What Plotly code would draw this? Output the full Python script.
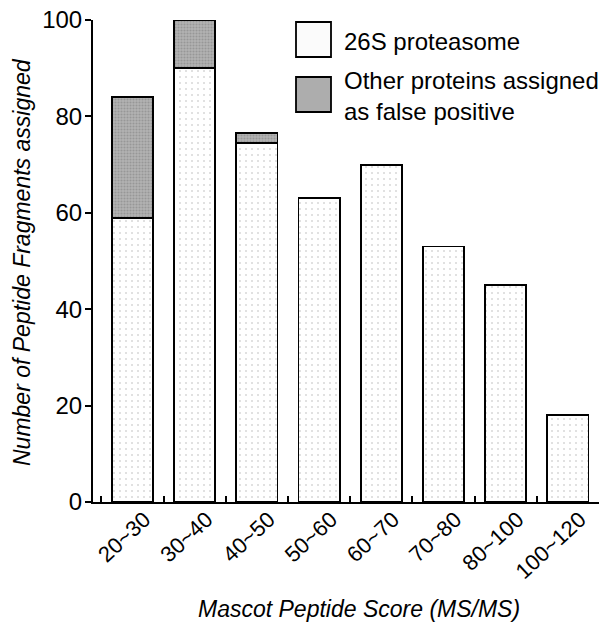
import plotly.graph_objects as go

categories = ["20~30", "30~40", "40~50", "50~60", "60~70", "70~80", "80~100", "100~120"]
proteasome = [59, 90, 74.5, 63, 70, 53, 45, 18]
false_pos = [25, 10, 2, 0, 0, 0, 0, 0]
y_ticks = [0, 20, 40, 60, 80, 100]

FONT = "Liberation Sans, Arial, sans-serif"

# plot area in pixels
L, R, T, B = 93, 599, 20, 502
W, H = R - L, B - T


def px(x):
    return (x - L) / W


def py(y):
    return (B - y) / H


fig = go.Figure()
fig.add_trace(go.Bar(
    x=categories, y=proteasome, name="26S proteasome", width=0.66,
    marker=dict(color="white", line=dict(color="black", width=1.8),
                pattern=dict(shape=".", bgcolor="white", fgcolor="#b4b4b4",
                             size=6, solidity=0.1, fillmode="overlay")),
    showlegend=False))
fig.add_trace(go.Bar(
    x=categories, y=false_pos, name="Other proteins assigned as false positive", width=0.66,
    marker=dict(color="#adadad", line=dict(color="black", width=1.8),
                pattern=dict(shape=".", bgcolor="#b2b2b2", fgcolor="#7c7c7c",
                             size=3, solidity=0.4, fillmode="overlay")),
    showlegend=False))

# legend boxes (drawn manually to match the large swatches)
fig.add_shape(type="rect", xref="paper", yref="paper",
              x0=px(296), x1=px(331), y0=py(57), y1=py(22),
              line=dict(color="black", width=1.8), fillcolor="#fbfbfb")
fig.add_shape(type="rect", xref="paper", yref="paper",
              x0=px(296), x1=px(331), y0=py(112), y1=py(77),
              line=dict(color="black", width=1.8), fillcolor="#adadad")
fig.add_annotation(xref="paper", yref="paper", x=px(342), y=py(42),
                   text="26S proteasome", showarrow=False, xanchor="left", yanchor="middle",
                   font=dict(family=FONT, size=24, color="black"))
fig.add_annotation(xref="paper", yref="paper", x=px(342), y=py(96),
                   text="Other proteins assigned<br>as false positive", showarrow=False,
                   xanchor="left", yanchor="middle", align="left",
                   font=dict(family=FONT, size=24, color="black"))

# axis titles
fig.add_annotation(xref="paper", yref="paper", x=px(359), y=py(609),
                   text="<i>Mascot Peptide Score (MS/MS)</i>", showarrow=False,
                   xanchor="center", yanchor="middle",
                   font=dict(family=FONT, size=23, color="black"))
fig.add_annotation(xref="paper", yref="paper", x=px(22), y=py(262),
                   text="<i>Number of Peptide Fragments assigned</i>", showarrow=False,
                   xanchor="center", yanchor="middle", textangle=-90,
                   font=dict(family=FONT, size=23, color="black"))

fig.update_layout(
    width=602, height=623,
    margin=dict(l=L, r=602 - R, t=T, b=623 - B),
    barmode="stack",
    plot_bgcolor="white", paper_bgcolor="white",
    font=dict(family=FONT, color="black"),
    xaxis=dict(
        type="category", range=[-0.635, 7.5], automargin=False,
        showline=True, linecolor="black", linewidth=2,
        ticks="inside", tickson="boundaries", ticklen=6, tickcolor="black", tickwidth=1.5,
        tickangle=-43, tickfont=dict(family=FONT, size=22),
        ticklabelshift=12, ticklabelstandoff=-6,
        showgrid=False, zeroline=False,
    ),
    yaxis=dict(
        range=[0, 100], tickvals=y_ticks, automargin=False,
        showline=True, linecolor="black", linewidth=2,
        ticks="outside", ticklen=6, tickcolor="black", tickwidth=1.5,
        tickfont=dict(family=FONT, size=24), ticklabelstandoff=-2,
        showgrid=False, zeroline=False,
    ),
)

fig.write_html("out.html", config={"displayModeBar": False},
               post_script="document.body.style.margin='0';")
